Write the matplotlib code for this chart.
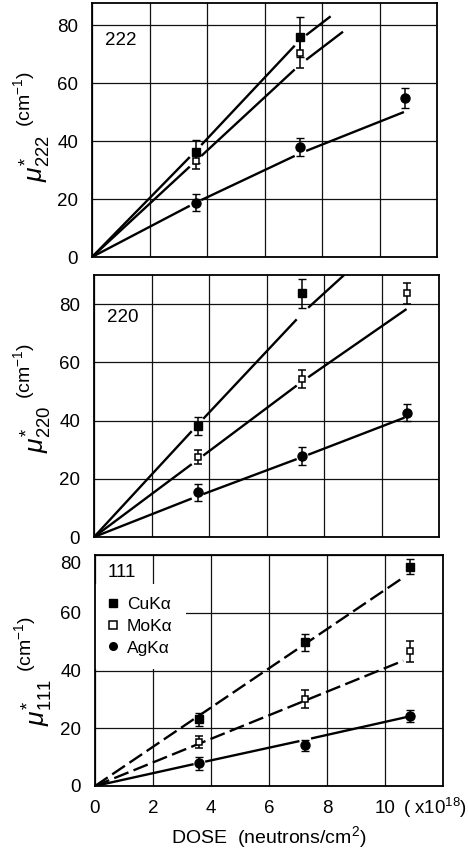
import numpy as np
import matplotlib
matplotlib.use('Agg')
import matplotlib.pyplot as plt
from matplotlib.lines import Line2D
from matplotlib.transforms import ScaledTranslation

plt.rcParams['font.family'] = ['Liberation Sans', 'DejaVu Sans']
plt.rcParams['mathtext.fontset'] = 'custom'
plt.rcParams['mathtext.rm'] = 'Liberation Sans'
plt.rcParams['mathtext.it'] = 'Liberation Sans:italic'
plt.rcParams['mathtext.bf'] = 'Liberation Sans:bold'

# ---------------- data ----------------
dose = [3.6, 7.25, 10.87]          # x10^18 neutrons/cm^2
series_names = ['CuK\u03b1', 'MoK\u03b1', 'AgK\u03b1']
x_ticks = [0, 2, 4, 6, 8, 10]
y_ticks = [0, 20, 40, 60, 80]

# reflection 222
cu_222 = [36.3, 75.9]
cu_222_err = [4.0, 7.0]
mo_222 = [33.2, 70.2]
mo_222_err = [3.0, 5.0]
ag_222 = [18.7, 37.9, 54.8]
ag_222_err = [3.0, 3.0, 3.5]
cu_222_fit_x = [0, 3.6, 7.25, 8.3]
cu_222_fit_y = [0, 36.5, 75.0, 83.0]
mo_222_fit_x = [0, 3.6, 7.25, 8.73]
mo_222_fit_y = [0, 33.0, 66.5, 77.7]
ag_222_fit_x = [0, 3.6, 7.25, 10.85]
ag_222_fit_y = [0, 18.7, 35.8, 50.0]

# reflection 220
cu_220 = [38.1, 83.7]
cu_220_err = [3.0, 5.0]
mo_220 = [27.5, 54.3, 83.7]
mo_220_err = [2.5, 3.0, 3.5]
ag_220 = [15.3, 27.9, 42.7]
ag_220_err = [3.0, 3.0, 3.0]
cu_220_fit_x = [0, 3.6, 7.3, 8.7]
cu_220_fit_y = [0, 38.5, 77.4, 90.0]
mo_220_fit_x = [0, 3.6, 7.25, 10.87]
mo_220_fit_y = [0, 26.5, 53.5, 78.3]
ag_220_fit_x = [0, 3.6, 7.25, 10.8]
ag_220_fit_y = [0, 14.0, 27.5, 41.0]

# reflection 111
cu_111 = [23.1, 49.8, 75.9]
cu_111_err = [2.3, 3.0, 2.6]
mo_111 = [15.1, 30.0, 46.7]
mo_111_err = [2.1, 3.1, 3.6]
ag_111 = [7.8, 14.1, 24.3]
ag_111_err = [2.2, 2.0, 2.0]
cu_111_fit_x = [0, 10.63]
cu_111_fit_y = [0, 72.2]
mo_111_fit_x = [0, 10.63]
mo_111_fit_y = [0, 43.4]
ag_111_fit_x = [0, 3.6, 7.25, 10.8]
ag_111_fit_y = [0, 8.0, 16.0, 24.0]

# ---------------- styling ----------------
LW = 1.7
GAP = 0.2
MSTYLE = {
    'Cu': dict(marker='s', ms=5.5, mfc='black', mec='black', mew=1.0),
    'Mo': dict(marker='s', ms=5.0, mfc='white', mec='black', mew=1.1),
    'Ag': dict(marker='o', ms=6.5, mfc='black', mec='black', mew=1.0),
}

fig = plt.figure(figsize=(4.68, 8.52), dpi=100)
axes_rects = [
    [92 / 468, (852 - 257) / 852, 345 / 468, 254.3 / 852],
    [94 / 468, (852 - 537) / 852, 345 / 468, 262 / 852],
    [95 / 468, (852 - 786) / 852, 348 / 468, 231 / 852],
]
ylims = [87.7, 90.0, 80.0]


def draw_fit(ax, fx, fy, breaks, dashed=False):
    if dashed:
        xs = np.linspace(fx[0], fx[-1], 200)
        ax.plot(xs, np.interp(xs, fx, fy), color='black', lw=LW,
                dashes=(6.5, 2.3), solid_capstyle='butt', zorder=3)
        return
    edges = [fx[0]]
    for b in breaks:
        if fx[0] < b < fx[-1] - GAP:
            edges += [b - GAP, b + GAP]
    edges.append(fx[-1])
    for a, b in zip(edges[::2], edges[1::2]):
        xs = np.linspace(a, b, 60)
        ax.plot(xs, np.interp(xs, fx, fy), color='black', lw=LW,
                solid_capstyle='butt', zorder=3)


def draw_points(ax, y, err, key):
    ax.errorbar(dose[:len(y)], y, yerr=err, ls='none', ecolor='black',
                elinewidth=1.1, capsize=3, capthick=1.1, zorder=4,
                **MSTYLE[key])


panel_data = [
    ('222', [(cu_222, cu_222_err, cu_222_fit_x, cu_222_fit_y, 'Cu', False),
             (mo_222, mo_222_err, mo_222_fit_x, mo_222_fit_y, 'Mo', False),
             (ag_222, ag_222_err, ag_222_fit_x, ag_222_fit_y, 'Ag', False)]),
    ('220', [(cu_220, cu_220_err, cu_220_fit_x, cu_220_fit_y, 'Cu', False),
             (mo_220, mo_220_err, mo_220_fit_x, mo_220_fit_y, 'Mo', False),
             (ag_220, ag_220_err, ag_220_fit_x, ag_220_fit_y, 'Ag', False)]),
    ('111', [(cu_111, cu_111_err, cu_111_fit_x, cu_111_fit_y, 'Cu', True),
             (mo_111, mo_111_err, mo_111_fit_x, mo_111_fit_y, 'Mo', True),
             (ag_111, ag_111_err, ag_111_fit_x, ag_111_fit_y, 'Ag', False)]),
]

label_pos = [(-0.162, 0.385, -0.198, 0.62),
             (-0.165, 0.41, -0.203, 0.632),
             (-0.164, 0.36, -0.2, 0.615)]
refl_label_y = [74.8, 75.3, 73.8]

for i, (rect, (refl, sers)) in enumerate(zip(axes_rects, panel_data)):
    ax = fig.add_axes(rect)
    ax.set_xlim(0, 12)
    ax.set_ylim(0, ylims[i])
    ax.set_xticks(x_ticks)
    ax.set_yticks(y_ticks)
    ax.grid(True, color='#111111', lw=0.9, zorder=0)
    ax.set_axisbelow(True)
    for sp in ax.spines.values():
        sp.set_linewidth(1.3)
    ax.tick_params(length=0, labelsize=13.5, pad=10)
    if i < 2:
        ax.tick_params(labelbottom=False)
    for y, err, fx, fy, key, dashed in sers:
        draw_fit(ax, fx, fy, dose[:len(y)], dashed)
        draw_points(ax, y, err, key)
    lx, ly, cx, cy = label_pos[i]
    ax.text(lx, ly, r'$\mu^{*}_{' + refl + '}$', transform=ax.transAxes,
            rotation=90, fontsize=19, ha='center', va='center')
    ax.text(cx, cy, '(cm$^{-1}$)', transform=ax.transAxes,
            rotation=90, fontsize=14, ha='center', va='center')
    ax.text(0.45, refl_label_y[i], refl, fontsize=13.5,
            ha='left', va='center', zorder=6)
    if i == 2:
        handles = [Line2D([], [], ls='none', **MSTYLE[k]) for k in ['Cu', 'Mo', 'Ag']]
        for h in handles:
            h.set_markersize(5.5)
        leg = ax.legend(handles, series_names, loc='upper left',
                        bbox_to_anchor=(0.0, 0.875), borderaxespad=0.0,
                        fontsize=12.5, frameon=True, facecolor='white',
                        edgecolor='none', framealpha=1, fancybox=False,
                        handlelength=0.6, handletextpad=0.5,
                        labelspacing=0.38, borderpad=0.75)
        leg.set_zorder(2)
        ax.set_xlabel('DOSE  (neutrons/cm$^{2}$)', fontsize=14, labelpad=5)
        ax.text(10.62, -0.095, '( x10$^{18}$)', transform=ax.get_xaxis_transform(),
                fontsize=13.5, ha='left', va='center')
        # the top "80" label sits slightly below the frame in the original
        lbl = ax.get_yticklabels()[-1]
        lbl.set_transform(lbl.get_transform() + ScaledTranslation(0, -8 / 100, fig.dpi_scale_trans))

fig.savefig('out.png', dpi=100)
